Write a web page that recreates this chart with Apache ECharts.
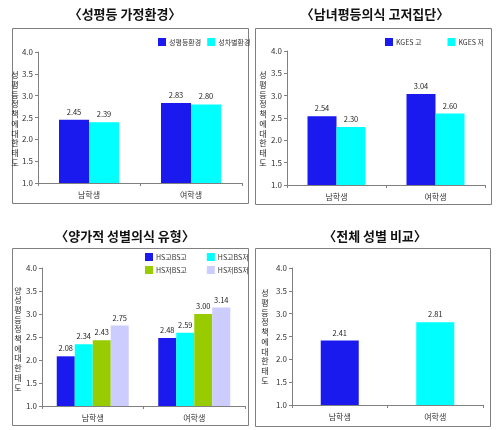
<!DOCTYPE html>
<html><head><meta charset="utf-8">
<script src="https://cdn.jsdelivr.net/npm/echarts@6/dist/echarts.min.js"></script>
<style>html,body{margin:0;padding:0;background:#fff}#c{width:500px;height:430px}</style>
</head><body><div id="c"></div>
<script>
// ---- data ----
const categories = ['남학생', '여학생'];
const titles = ['〈성평등 가정환경〉', '〈남녀평등의식 고저집단〉', '〈양가적 성별의식 유형〉', '〈전체 성별 비교〉'];
const yNames = ['성평등정책에대한태도', '성평등정책에대한태도', '양성평등정책에대한태도', '성평등정책에대한태도'];
const yMin = 1.0, yMax = 4.0, yStep = 0.5;

const p1Names = ['성평등환경', '성차별환경'];
const p1Equal = [2.45, 2.83];
const p1Discrim = [2.39, 2.80];

const p2Names = ['KGES 고', 'KGES 저'];
const p2High = [2.54, 3.04];
const p2Low = [2.30, 2.60];

const p3Names = ['HS고BS고', 'HS고BS저', 'HS저BS고', 'HS저BS저'];
const p3HH = [2.08, 2.48];
const p3HL = [2.34, 2.59];
const p3LH = [2.43, 3.00];
const p3LL = [2.75, 3.14];

const p4Values = [2.41, 2.81];

// ---- styling ----
const FONT = '"Noto Sans CJK KR", "Noto Sans", sans-serif';
const BLUE = '#1a1aee', CYAN = '#00ffff', GREEN = '#99cc00', LAV = '#ccccff';
const AXIS = '#808080';

const grids = [
  {left: 38, right: 258, top: 52, bottom: 247},
  {left: 287, right: 15, top: 51, bottom: 245},
  {left: 42, right: 255, top: 268, bottom: 24},
  {left: 292, right: 17, top: 268, bottom: 25}
];
const namePos = [[15, 119], [263, 119], [18, 339], [265, 337]];

function vert(s) { return s.split('').join('\n'); }

const xAxes = grids.map((g, i) => ({
  type: 'category', gridIndex: i, data: categories,
  axisLine: {lineStyle: {color: AXIS}},
  axisTick: {show: true, length: 3, lineStyle: {color: AXIS}},
  axisLabel: {fontSize: 8, color: '#333', fontFamily: FONT, margin: 8}
}));
const yAxes = grids.map((g, i) => ({
  type: 'value', gridIndex: i, min: yMin, max: yMax, interval: yStep,
  splitLine: {show: false},
  axisLine: {show: true, lineStyle: {color: AXIS}},
  axisTick: {show: true, length: 3, lineStyle: {color: AXIS}},
  axisLabel: {fontSize: 8, color: '#333', fontFamily: FONT, margin: 5,
    formatter: v => v.toFixed(1)}
}));

function labelCfg() {
  return {show: true, position: 'top', fontSize: 7.5, color: '#222', fontFamily: FONT,
    distance: 4, formatter: p => p.value.toFixed(2)};
}
function bar(name, data, color, idx, width) {
  return {
    type: 'bar', name: name, data: data, xAxisIndex: idx, yAxisIndex: idx,
    barWidth: width, barGap: '0%',
    itemStyle: {color: color},
    label: labelCfg()
  };
}

const series = [
  bar(p1Names[0], p1Equal, BLUE, 0, 30),
  bar(p1Names[1], p1Discrim, CYAN, 0, 30),
  bar(p2Names[0], p2High, BLUE, 1, 29),
  bar(p2Names[1], p2Low, CYAN, 1, 29),
  bar(p3Names[0], p3HH, BLUE, 2, 18),
  bar(p3Names[1], p3HL, CYAN, 2, 18),
  bar(p3Names[2], p3LH, GREEN, 2, 18),
  bar(p3Names[3], p3LL, LAV, 2, 18),
  {
    type: 'bar', name: '전체', xAxisIndex: 3, yAxisIndex: 3, barWidth: 38,
    data: p4Values.map((v, i) => ({value: v, itemStyle: {color: [BLUE, CYAN][i]}})),
    label: labelCfg()
  }
];

const legendBase = {
  orient: 'horizontal', icon: 'rect', itemWidth: 8, itemHeight: 8,
  textStyle: {fontSize: 7, color: '#333', fontFamily: FONT, padding: [0, 0, 0, -2]},
  padding: 0
};
const legends = [
  Object.assign({}, legendBase, {data: p1Names, left: 158, top: 38, itemGap: 6}),
  Object.assign({}, legendBase, {data: p2Names, left: 385, top: 38, itemGap: 26}),
  Object.assign({}, legendBase, {data: p3Names.slice(0, 2), left: 145, top: 253, itemGap: 20}),
  Object.assign({}, legendBase, {data: p3Names.slice(2, 4), left: 145, top: 266, itemGap: 20})
];

const titleCfg = [
  {text: titles[0], left: 125, top: 8},
  {text: titles[1], left: 375, top: 8},
  {text: titles[2], left: 125, top: 230},
  {text: titles[3], left: 375, top: 230}
].map(t => ({
  text: t.text, left: t.left, top: t.top, textAlign: 'center', padding: 0,
  textStyle: {fontSize: 13, fontWeight: 'bold', color: '#111', fontFamily: FONT}
}));

const boxes = [
  [12, 28, 236, 175], [255, 28, 236, 176], [12, 248, 236, 177], [255, 248, 235, 178]
].map(b => ({
  type: 'rect', shape: {x: b[0] + 0.5, y: b[1] + 0.5, width: b[2], height: b[3]},
  style: {fill: 'none', stroke: '#7f7f7f', lineWidth: 1}, silent: true, z: -1
}));

const yNameTexts = yNames.map((n, i) => ({
  type: 'text', x: namePos[i][0], y: namePos[i][1], silent: true,
  style: {text: vert(n), fontSize: 8, fontFamily: FONT, fill: '#222',
    lineHeight: 9.7, align: 'center', verticalAlign: 'middle'}
}));

const chart = echarts.init(document.getElementById('c'), null, {renderer: 'canvas'});
chart.setOption({
  backgroundColor: '#fff',
  animation: false,
  title: titleCfg,
  legend: legends,
  grid: grids,
  xAxis: xAxes,
  yAxis: yAxes,
  series: series,
  graphic: boxes.concat(yNameTexts)
});
</script></body></html>
